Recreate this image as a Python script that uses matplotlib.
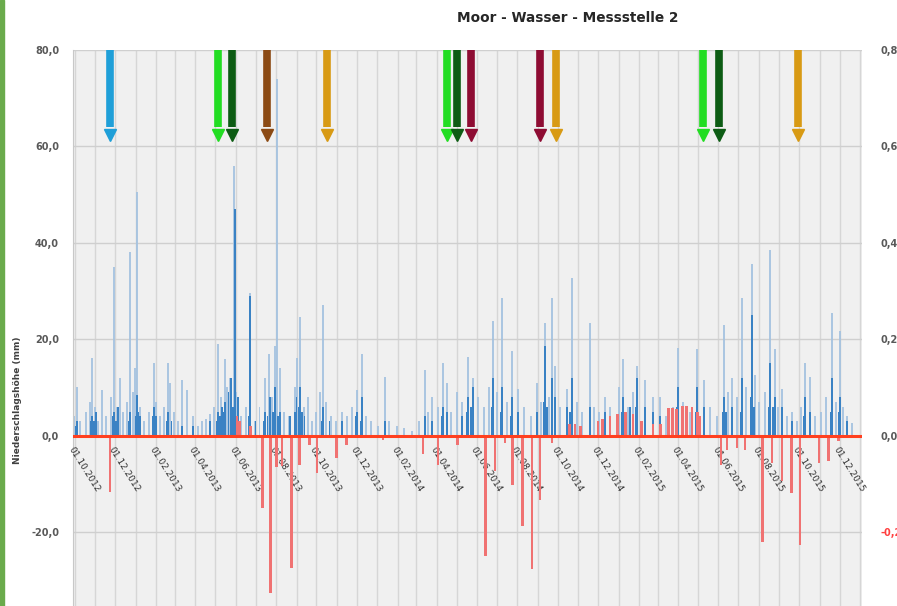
import matplotlib
matplotlib.use("Agg")
import matplotlib.pyplot as plt
import matplotlib.dates as mdates
import numpy as np
import pandas as pd
from matplotlib.patches import Rectangle

# ---------------- data ----------------
light_dates = ["2012-10-03","2012-10-07","2012-10-12","2012-10-20","2012-10-26","2012-10-30","2012-11-03","2012-11-08",
    "2012-11-14","2012-11-20","2012-11-28","2012-12-02","2012-12-06","2012-12-11","2012-12-16","2012-12-21","2012-12-26",
    "2012-12-30","2013-01-03","2013-01-06","2013-01-10","2013-01-16","2013-01-24","2013-01-31","2013-02-04","2013-02-10",
    "2013-02-16","2013-02-22","2013-02-25","2013-03-03","2013-03-09","2013-03-15","2013-03-22","2013-03-31","2013-04-08",
    "2013-04-14","2013-04-20","2013-04-26","2013-05-02","2013-05-08","2013-05-13","2013-05-19","2013-05-22","2013-05-27",
    "2013-06-01","2013-06-05","2013-06-12","2013-06-19","2013-06-26","2013-07-03","2013-07-10","2013-07-18","2013-07-24",
    "2013-07-29","2013-08-02","2013-08-05","2013-08-10","2013-08-16","2013-08-24","2013-09-01","2013-09-04","2013-09-09",
    "2013-09-15","2013-09-21","2013-09-28","2013-10-04","2013-10-09","2013-10-14","2013-10-19","2013-10-26","2013-11-03",
    "2013-11-12","2013-11-20","2013-11-27","2013-12-04","2013-12-12","2013-12-18","2013-12-26","2014-01-05","2014-01-16",
    "2014-01-22","2014-02-03","2014-02-14","2014-02-26","2014-03-08","2014-03-17","2014-03-22","2014-03-28","2014-04-06",
    "2014-04-13","2014-04-19","2014-04-26","2014-05-04","2014-05-12","2014-05-21","2014-05-29","2014-06-06","2014-06-14",
    "2014-06-22","2014-06-28","2014-07-04","2014-07-12","2014-07-19","2014-07-27","2014-08-05","2014-08-14","2014-08-24",
    "2014-09-03","2014-09-09","2014-09-15","2014-09-21","2014-09-25","2014-09-30","2014-10-08","2014-10-18","2014-10-25",
    "2014-11-02","2014-11-10","2014-11-22","2014-11-28","2014-12-06","2014-12-14","2014-12-22","2015-01-04","2015-01-11",
    "2015-01-18","2015-01-25","2015-02-01","2015-02-13","2015-02-25","2015-03-08","2015-03-16","2015-03-27","2015-04-04",
    "2015-04-12","2015-04-22","2015-05-03","2015-05-13","2015-05-22","2015-06-02","2015-06-12","2015-06-18","2015-06-24",
    "2015-07-02","2015-07-10","2015-07-16","2015-07-25","2015-07-29","2015-08-05","2015-08-13","2015-08-21","2015-08-28",
    "2015-09-02","2015-09-08","2015-09-16","2015-09-23","2015-10-01","2015-10-07","2015-10-13","2015-10-20","2015-10-28",
    "2015-11-06","2015-11-14","2015-11-23","2015-11-28","2015-12-05","2015-12-10","2015-12-15","2015-12-23"]
light_mm = [4,10,3,5,7,16,6,3,
    9.5,4,8,35,6,12,5,7,38,
    9,14,50.5,6,3,5,15,7,4,
    6,15,11,5,3,11.5,9.5,4,2,
    3,3.5,4.5,6,19,8,15.8,10,12,
    56,9,4,6,29.5,3,6,12,17,
    8,18.5,74,14,5,4,10,16,24.7,
    6,8,3,5,9,27,7,4,3,
    5,4,6,9.5,17,4,3,2,12.2,
    3,2,1.5,1,3,13.7,5,8,6,
    15,11,5,9,7,16.4,12,8,6,
    10,23.7,9,28.6,7,17.5,9.6,6,4,
    11,7,23.4,8,28.6,14.4,6,9.6,32.8,
    7,5,23.4,6,5,8,6,10,15.8,
    6,9,14.4,11.6,8,8,4,6,18.2,
    7,5,17.9,11.6,6,4,23,9,12,
    8,28.6,10,35.5,12.5,7,9,38.6,18,
    6,9.6,4,5,3,6,15,12.2,4,
    5,8,25.5,7,21.7,6,4,2.7]

dark_dates = ["2012-10-05","2012-10-07","2012-10-28","2012-10-30","2012-11-02","2012-11-05","2012-11-30","2012-12-02",
    "2012-12-05","2012-12-08","2012-12-24","2012-12-26","2013-01-04","2013-01-06","2013-01-08","2013-01-10",
    "2013-01-29","2013-01-31","2013-02-04","2013-02-20","2013-02-22","2013-02-27","2013-03-15","2013-03-31","2013-04-26",
    "2013-05-06","2013-05-08","2013-05-11","2013-05-14","2013-05-17","2013-05-19","2013-05-24","2013-05-28","2013-05-31",
    "2013-06-03","2013-06-08","2013-06-24","2013-06-26","2013-07-04","2013-07-16","2013-07-18","2013-07-22","2013-07-26",
    "2013-07-30","2013-08-02","2013-08-07","2013-08-10","2013-08-25","2013-09-02","2013-09-04","2013-09-07","2013-09-09",
    "2013-09-12","2013-09-16","2013-10-12","2013-10-14","2013-10-24","2013-11-12","2013-12-02","2013-12-04","2013-12-10",
    "2013-12-12","2014-01-16","2014-03-17","2014-03-28","2014-04-11","2014-04-13","2014-04-19","2014-05-12","2014-05-19",
    "2014-05-21","2014-05-26","2014-05-29","2014-06-26","2014-06-28","2014-07-10","2014-07-12","2014-07-25","2014-07-27",
    "2014-08-05","2014-09-03","2014-09-13","2014-09-15","2014-09-18","2014-09-25","2014-09-30","2014-10-18","2014-10-23",
    "2014-10-25","2014-11-22","2014-12-14","2015-01-09","2015-01-11","2015-01-21","2015-01-30","2015-02-01","2015-02-13",
    "2015-02-25","2015-03-08","2015-04-02","2015-04-04","2015-05-01","2015-05-03","2015-05-13","2015-06-10","2015-06-12",
    "2015-06-15","2015-06-24","2015-07-08","2015-07-10","2015-07-23","2015-07-25","2015-07-28","2015-08-19","2015-08-21",
    "2015-08-25","2015-08-28","2015-09-08","2015-09-23","2015-10-11","2015-10-13","2015-10-20","2015-11-21","2015-11-23",
    "2015-12-03","2015-12-05","2015-12-15"]
dark_mm = [2,3,3,4,3,5,4,5,
    3,6,3,5,4,8.5,5,4,
    4,6,4,3,5,3,2,2,3,
    3,5,4,6,5,7,9,12,6,
    47,8,4,29,3,3,5,4,8,
    5,10,4,5,4,5,8,6,10,
    5,4,3,6,3,3,4,5,3,
    8,3,4,3,4,6,5,4,5,
    8,6,10,6,12,5,10,4,8,
    5,5,7,18.5,6,12,8,6,5,
    12,6,5,5,8,6,6,12,6,
    5,4,6,10,5,10,6,5,8,
    5,6,5,12,8,25,6,6,15,
    6,8,6,3,4,8,5,5,12,
    5,8,3]

level_dates = ["2013-06-06","2013-06-10","2013-06-26","2014-10-22","2014-10-30","2014-11-07","2014-12-04","2014-12-11",
    "2014-12-22","2015-01-02","2015-01-14","2015-01-26","2015-02-08","2015-02-25","2015-03-08","2015-03-20","2015-03-26",
    "2015-04-02","2015-04-11","2015-04-17","2015-04-25","2015-05-03","2015-05-07",
    "2012-11-26","2013-07-15","2013-07-27","2013-08-05","2013-08-13","2013-08-27","2013-09-08","2013-09-24","2013-10-05",
    "2013-11-03","2013-11-19","2014-01-13","2014-03-14","2014-04-06","2014-05-05","2014-06-17","2014-07-01","2014-07-16",
    "2014-07-28","2014-08-12","2014-08-26","2014-09-07","2014-09-25","2015-06-08","2015-06-17","2015-07-02","2015-07-14",
    "2015-08-10","2015-08-24","2015-09-08","2015-09-22","2015-10-05","2015-11-03","2015-11-17","2015-12-02"]
level_change_m = [0.04,0.03,0.02,0.025,0.025,0.02,0.03,0.035,
    0.04,0.045,0.05,0.045,0.03,0.025,0.025,0.058,0.058,
    0.055,0.062,0.062,0.06,0.05,0.04,
    -0.118,-0.15,-0.326,-0.066,-0.064,-0.274,-0.06,-0.02,-0.077,
    -0.046,-0.019,-0.01,-0.039,-0.06,-0.019,-0.25,-0.074,-0.015,
    -0.102,-0.187,-0.276,-0.133,-0.015,-0.06,-0.03,-0.025,-0.03,
    -0.22,-0.057,-0.095,-0.119,-0.226,-0.057,-0.053,-0.012]

event_dates = ["2012-11-26","2013-05-08","2013-05-29","2013-07-21","2013-10-20","2014-04-20","2014-05-05",
               "2014-05-26","2014-09-07","2014-10-01","2015-05-12","2015-06-05","2015-10-02"]
event_colors = ["#1f9fd8","#22dd22","#0d5c14","#8b4a14","#d89a14","#22dd22","#0d5c14",
                "#8e0c33","#8e0c33","#d89a14","#22dd22","#0d5c14","#d89a14"]

tick_dates = ["2012-10-01","2012-12-01","2013-02-01","2013-04-01","2013-06-01","2013-08-01","2013-10-01",
              "2013-12-01","2014-02-01","2014-04-01","2014-06-01","2014-08-01","2014-10-01","2014-12-01",
              "2015-02-01","2015-04-01","2015-06-01","2015-08-01","2015-10-01","2015-12-01"]
tick_labels = [pd.Timestamp(d).strftime("%d.%m.%Y") for d in tick_dates]

title = "Moor - Wasser - Messstelle 2"
ylabel = "Niederschlagshöhe (mm)"

# ---------------- figure ----------------
def dn(lst):
    return mdates.date2num(pd.to_datetime(lst).to_pydatetime())

W, H = 897, 606
fig = plt.figure(figsize=(W / 100, H / 100), dpi=100)
fig.patch.set_facecolor("white")
ax = fig.add_axes([73 / W, 0, (862 - 73) / W, (606 - 50) / H])
ax.set_facecolor("#f0f0f0")

x0 = mdates.date2num(pd.Timestamp("2012-10-01").to_pydatetime())
ax.set_xlim(x0, x0 + 1193)
ax.set_ylim(-35.35, 80)

# grid
months = dn(pd.date_range("2012-10-01", "2016-01-01", freq="MS"))
ax.set_xticks(months + 3)
ax.set_xticklabels([])
ax.tick_params(axis="x", length=0)
ax.set_yticks([-20, 0, 20, 40, 60, 80])
ax.set_yticklabels(["-20,0", "0,0", "20,0", "40,0", "60,0", "80,0"],
                   fontsize=7, color="#595959", fontweight="bold")
ax.tick_params(axis="y", length=0, pad=10)
ax.grid(axis="x", color="#d6d6d6", lw=1.0)
ax.grid(axis="y", color="#cfcfcf", lw=1.0)
ax.set_axisbelow(True)
for s in ["top", "right", "bottom"]:
    ax.spines[s].set_visible(False)
ax.spines["left"].set_color("#c8c8c8")

# precipitation bars
ax.bar(dn(light_dates), light_mm, width=3.0, color="#a4c2e0", alpha=0.9, lw=0, zorder=2)
ax.bar(dn(dark_dates), dark_mm, width=2.6, color="#3a82c4", lw=0, zorder=3)

# event arrows
for d, c in zip(dn(event_dates), event_colors):
    ax.plot([d, d], [80, 64.0], color=c, lw=5.5, solid_capstyle="butt", zorder=5)
    ax.plot(d, 62.3, marker="v", ms=9, color=c, mec=c, zorder=5)

# date labels
for d, lab in zip(dn(tick_dates), tick_labels):
    ax.text(d + 2, -2.0, lab, rotation=-58, rotation_mode="anchor", ha="left", va="top",
            fontsize=6.5, color="#333333", zorder=6)

# secondary axis: water level change
ax2 = ax.twinx()
ax2.set_ylim(-0.3535, 0.8)
ax2.bar(dn(level_dates), level_change_m, width=4.0, color="#f07272", lw=0, zorder=4)
ax2.axhline(0, color="#ff4020", lw=2.2, zorder=5)
ax2.set_yticks([-0.2, 0.0, 0.2, 0.4, 0.6, 0.8])
ax2.set_yticklabels(["-0,20", "0,00", "0,20", "0,40", "0,60", "0,80"], fontsize=7,
                    color="#595959", fontweight="bold")
ax2.get_yticklabels()[0].set_color("#ff4040")
ax2.tick_params(axis="y", length=0, pad=13)
for s in ax2.spines.values():
    s.set_visible(False)

# labels
fig.text(568 / W, 1 - 18 / H, title, ha="center", va="center", fontsize=9.8,
         fontweight="bold", color="#262626")
fig.text(18 / W, 1 - 400 / H, ylabel, rotation=90, ha="center", va="center",
         fontsize=6.5, fontweight="bold", color="#404040")

# green left border
fig.patches.append(Rectangle((0, 0), 4 / W, 1, transform=fig.transFigure,
                             color="#6aab4c", zorder=10))

fig.savefig("out.png", dpi=100)
